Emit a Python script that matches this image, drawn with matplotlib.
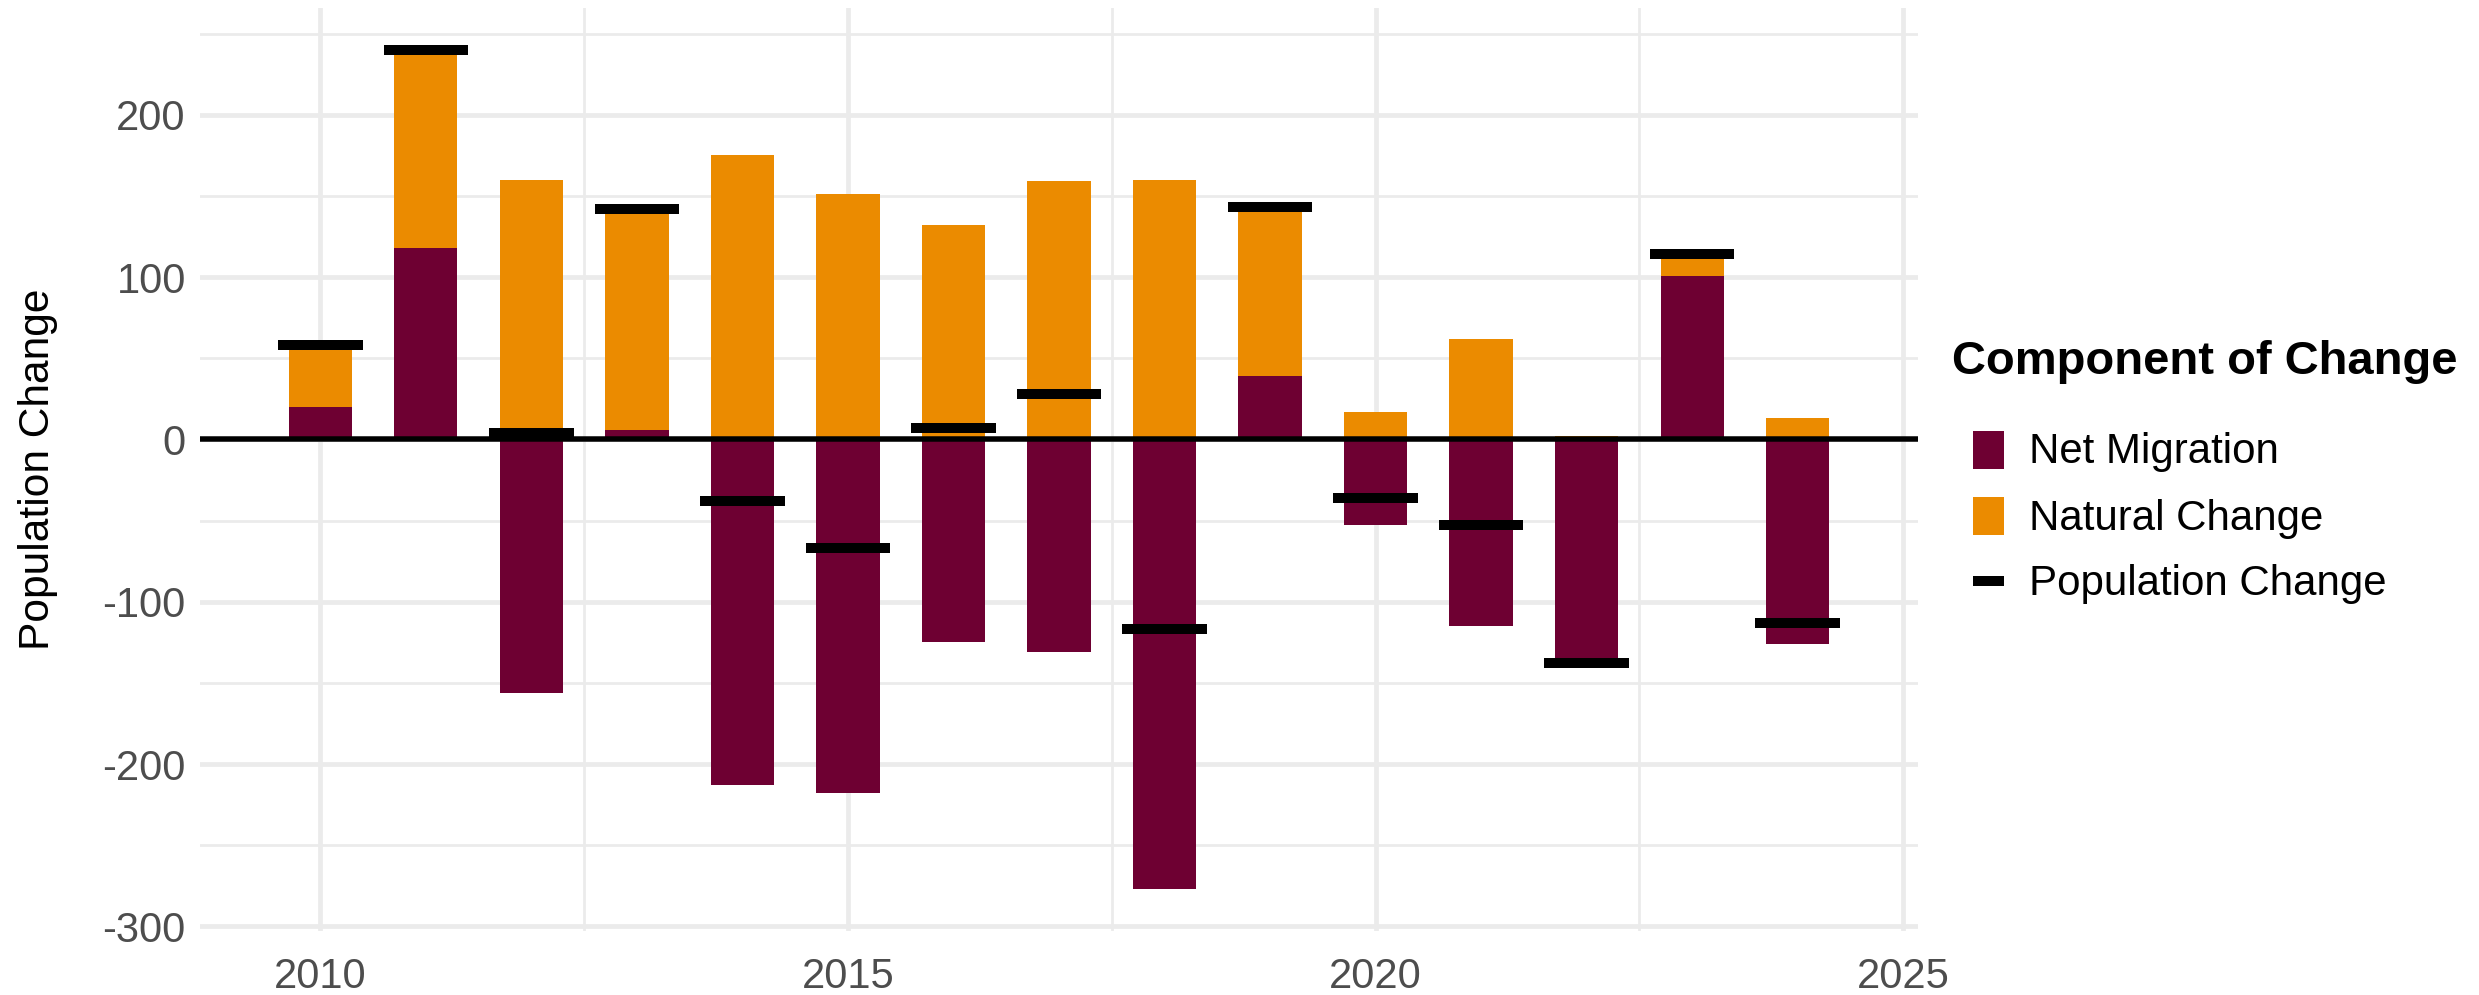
import matplotlib
matplotlib.use("Agg")
import matplotlib.pyplot as plt
import numpy as np
from matplotlib.patches import Rectangle
from matplotlib.lines import Line2D

# ---------------- data ----------------
years = [2010, 2011, 2012, 2013, 2014, 2015, 2016, 2017, 2018, 2019, 2020, 2021, 2022, 2023, 2024]
net_migration = [20, 118, -156, 6, -213, -218, -125, -131, -277, 39, -53, -115, -140, 101, -126]
natural_change = [38, 122, 160, 136, 175, 151, 132, 159, 160, 104, 17, 62, 2, 13, 13]
population_change = [58, 240, 4, 142, -38, -67, 7, 28, -117, 143, -36, -53, -138, 114, -113]

x_ticks = [2010, 2015, 2020, 2025]
y_ticks = [-300, -200, -100, 0, 100, 200]
y_label = "Population Change"
legend_title = "Component of Change"
series_labels = ["Net Migration", "Natural Change", "Population Change"]

# ---------------- style ----------------
MAROON = "#6E0032"
ORANGE = "#EB8B00"
GRID = "#EBEBEB"
TICK_GREY = "#4D4D4D"

plt.rcParams["font.family"] = ["Liberation Sans", "DejaVu Sans"]
plt.rcParams["axes.unicode_minus"] = False

W, H, DPI = 2479, 995, 300
fig = plt.figure(figsize=(W / DPI, H / DPI), dpi=DPI)
fig.patch.set_facecolor("white")

# panel in pixel coordinates
pl, pt, pr, pb = 200, 8, 1918, 931
ax = fig.add_axes([pl / W, 1 - pb / H, (pr - pl) / W, (pb - pt) / H])

yrs = np.array(years, dtype=float)
net = np.array(net_migration, dtype=float)
nat = np.array(natural_change, dtype=float)
pop = np.array(population_change, dtype=float)

bar_w = 0.6
mark_w = 0.8

ax.bar(yrs, net, width=bar_w, color=MAROON, linewidth=0, zorder=2)
ax.bar(yrs, nat, width=bar_w, bottom=np.maximum(net, 0), color=ORANGE, linewidth=0, zorder=2)
ax.axhline(0, color="black", lw=1.32, zorder=3)
ax.hlines(pop, yrs - mark_w / 2, yrs + mark_w / 2, colors="black", lw=2.4,
          capstyle="butt", zorder=4)

# limits with ggplot-like 5% expansion
top = np.maximum(net, 0) + nat
ymin = min(net.min(), pop.min(), 0)
ymax = max(top.max(), pop.max())
ypad = 0.05 * (ymax - ymin)
ax.set_ylim(ymin - ypad, ymax + ypad)
xmin = yrs.min() - mark_w / 2
xmax = yrs.max() + mark_w / 2
xpad = 0.05 * (xmax - xmin)
ax.set_xlim(xmin - xpad, xmax + xpad)

ax.set_xticks(x_ticks)
ax.set_xticks([(a + b) / 2 for a, b in zip(x_ticks[:-1], x_ticks[1:])], minor=True)
ax.set_yticks(y_ticks)
ax.set_yticks([(a + b) / 2 for a, b in zip(y_ticks[:-1], y_ticks[1:])] + [y_ticks[-1] + 50], minor=True)
ax.set_yticklabels([str(v) for v in y_ticks])
ax.set_xticklabels([str(v) for v in x_ticks])

ax.grid(which="major", color=GRID, lw=1.15, zorder=0)
ax.grid(which="minor", color=GRID, lw=0.65, zorder=0)
ax.set_axisbelow(True)
for s in ax.spines.values():
    s.set_visible(False)
ax.tick_params(which="both", length=0)
ax.tick_params(axis="x", labelsize=10, labelcolor=TICK_GREY, pad=6.3)
ax.tick_params(axis="y", labelsize=10, labelcolor=TICK_GREY, pad=3.4)

ax.set_ylabel(y_label, fontsize=10.2, color="black")
ax.yaxis.set_label_coords((58 - pl) / (pr - pl), 0.5)

# ---------------- legend (manual, ggplot-like) ----------------
def fx(px):
    return px / W

def fy(py):
    return 1 - py / H

fig.text(fx(1952), fy(374), legend_title, fontsize=11.3, fontweight="bold", va="baseline", ha="left")

key_l, key_r = 1972.5, 2004
fig.add_artist(Rectangle((fx(key_l), fy(469)), fx(key_r - key_l), (469 - 431) / H,
                         transform=fig.transFigure, color=MAROON, lw=0))
fig.add_artist(Rectangle((fx(key_l), fy(535)), fx(key_r - key_l), (535 - 497) / H,
                         transform=fig.transFigure, color=ORANGE, lw=0))
fig.add_artist(Line2D([fx(key_l), fx(key_r)], [fy(580.7), fy(580.7)], transform=fig.transFigure,
                      color="black", lw=2.4, solid_capstyle="butt"))

label_x = 2029
for lab, base in zip(series_labels, [463, 530, 595]):
    fig.text(fx(label_x), fy(base), lab, fontsize=10.1, va="baseline", ha="left", color="black")

fig.savefig("out.png", dpi=DPI, facecolor="white")
